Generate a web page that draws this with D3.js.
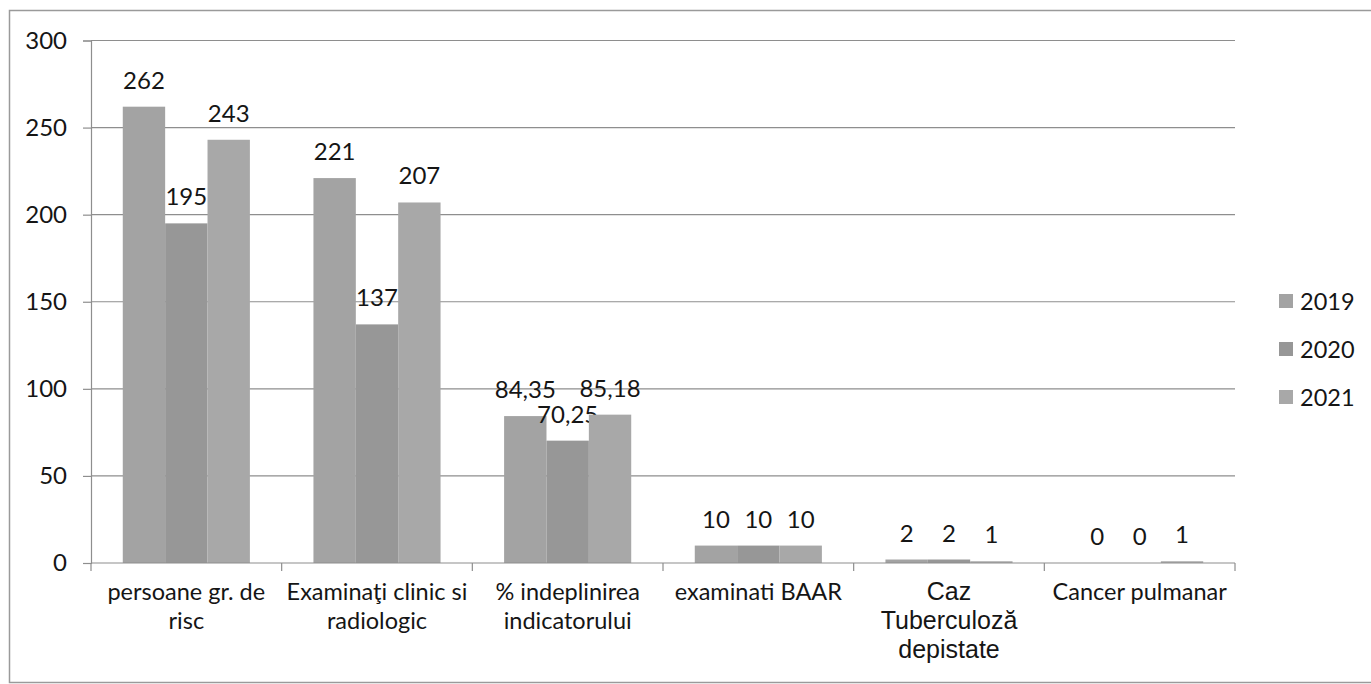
<!DOCTYPE html>
<html><head><meta charset="utf-8">
<script src="https://cdn.jsdelivr.net/npm/d3@7"></script>
<style>body{margin:0;background:#fff}</style>
</head><body>
<svg id="c" width="1371" height="684"></svg>
<script>
const categories = [
  ["persoane gr. de","risc"],
  ["Examinaţi clinic si","radiologic"],
  ["% indeplinirea","indicatorului"],
  ["examinati BAAR"],
  ["Caz","Tuberculoză","depistate"],
  ["Cancer pulmanar"]
];
const seriesNames = ["2019","2020","2021"];
const v2019 = [262, 221, 84.35, 10, 2, 0];
const v2020 = [195, 137, 70.25, 10, 2, 0];
const v2021 = [243, 207, 85.18, 10, 1, 1];
const yTicks = [0, 50, 100, 150, 200, 250, 300];
const colors = ["#a3a3a3", "#979797", "#a8a8a8"];

const series = [v2019, v2020, v2021];
const svg = d3.select("#c");
const L = 91, R = 1235, T = 40.5, B = 563;
const font = "Lato, 'Open Sans', sans-serif";
const ink = "#151515";

// frame
svg.append("rect").attr("x", 9.5).attr("y", 10.5).attr("width", 1400).attr("height", 672)
  .attr("fill", "none").attr("stroke", "#9a9a9a").attr("stroke-width", 1.5);

const x0 = d3.scaleBand().domain(d3.range(categories.length)).range([L, R]).paddingInner(0).paddingOuter(0);
const x1 = d3.scaleBand().domain(d3.range(3)).range([0, x0.bandwidth()]).paddingOuter(0.75).paddingInner(0);
const y = d3.scaleLinear().domain([0, 300]).range([B, T]);

// gridlines
svg.append("g").selectAll("line").data(yTicks.filter(d => d > 0)).join("line")
  .attr("x1", L).attr("x2", R).attr("y1", d => y(d)).attr("y2", d => y(d))
  .attr("stroke", "#8e8e8e").attr("stroke-width", 1.2);

// y axis
const ya = svg.append("g").attr("transform", `translate(${L},0)`)
  .call(d3.axisLeft(y).tickValues(yTicks).tickSize(8).tickPadding(16).tickFormat(d3.format("d")));
ya.select(".domain").attr("stroke", "#8e8e8e").attr("stroke-width", 1.2);
ya.selectAll(".tick line").attr("stroke", "#8e8e8e").attr("stroke-width", 1.2);
ya.selectAll(".tick text").attr("font-family", font).attr("font-size", 24).attr("fill", ink);

// bars
series.forEach((vals, s) => {
  svg.append("g").selectAll("rect").data(vals).join("rect")
    .attr("x", (d, i) => x0(i) + x1(s)).attr("width", x1.bandwidth())
    .attr("y", d => y(d)).attr("height", d => B - y(d))
    .attr("fill", colors[s]);
  svg.append("g").selectAll("text").data(vals).join("text")
    .attr("x", (d, i) => x0(i) + x1(s) + x1.bandwidth() / 2)
    .attr("y", d => y(d) - 18)
    .attr("text-anchor", "middle")
    .attr("font-family", font).attr("font-size", 24).attr("fill", ink)
    .text(d => String(d).replace(".", ","));
});

// x axis
const xa = svg.append("g").attr("transform", `translate(0,${B})`);
xa.append("line").attr("x1", L).attr("x2", R).attr("stroke", "#8e8e8e").attr("stroke-width", 1.2);
xa.selectAll("line.tk").data(d3.range(categories.length + 1)).join("line").attr("class", "tk")
  .attr("x1", i => L + i * x0.bandwidth()).attr("x2", i => L + i * x0.bandwidth())
  .attr("y1", 0).attr("y2", 8).attr("stroke", "#8e8e8e").attr("stroke-width", 1.2);
categories.forEach((lines, i) => {
  const arial = i === 4;
  const t = xa.append("text").attr("x", x0(i) + x0.bandwidth() / 2).attr("y", 37)
    .attr("text-anchor", "middle")
    .attr("font-family", arial ? "'Liberation Sans', Arial, sans-serif" : font)
    .attr("font-size", arial ? 25 : 23.5).attr("fill", ink);
  lines.forEach((ln, k) => t.append("tspan").attr("x", x0(i) + x0.bandwidth() / 2)
    .attr("dy", k === 0 ? 0 : 29).text(ln));
});

// legend
const lg = svg.append("g").attr("transform", "translate(1279,0)");
seriesNames.forEach((n, i) => {
  const cy = 301 + i * 48;
  lg.append("rect").attr("x", 0).attr("y", cy - 7).attr("width", 14).attr("height", 14).attr("fill", colors[i]);
  lg.append("text").attr("x", 21).attr("y", cy + 8.5).attr("font-family", font).attr("font-size", 23.5)
    .attr("fill", ink).text(n);
});
</script>
</body></html>
